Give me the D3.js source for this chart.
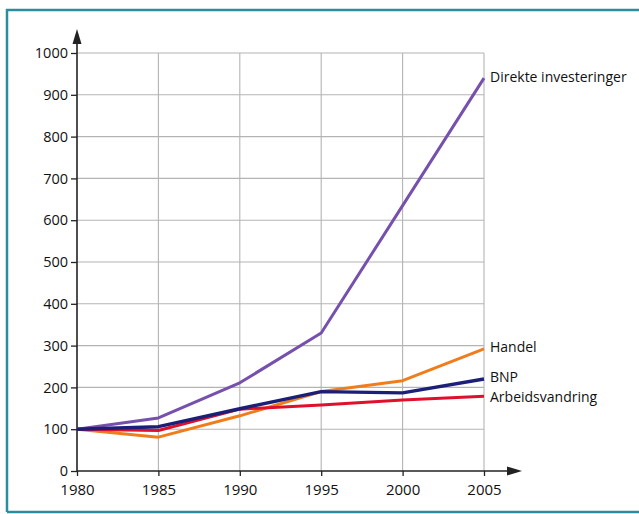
<!DOCTYPE html>
<html><head><meta charset="utf-8">
<script src="https://cdn.jsdelivr.net/npm/d3@7"></script>
<style>body{margin:0;background:#fff}svg{display:block}</style>
</head><body>
<svg id="c" width="639" height="514"></svg>
<script>
const years = [1980, 1985, 1990, 1995, 2000, 2005];
const yTicks = [0, 100, 200, 300, 400, 500, 600, 700, 800, 900, 1000];
const seriesNames = ["Direkte investeringer", "Handel", "BNP", "Arbeidsvandring"];
const direkte = [100, 127, 211, 330, 635, 940];
const handel = [100, 81, 132, 190, 216, 292];
const bnp = [100, 106, 149, 190, 187, 220];
const arbeid = [100, 97, 148, 158, 170, 179];
const colors = ["#7650ad", "#f07d1c", "#1c1f78", "#e0102c"];

const svg = d3.select("#c");
const font = "'Open Sans', 'Noto Sans', sans-serif";
const x = d3.scaleLinear().domain([1980, 2005]).range([77, 484]);
const y = d3.scaleLinear().domain([0, 1000]).range([471, 53]);

// frame
svg.append("path").attr("d", "M7,512 L7,10 L639,10").attr("fill", "none").attr("stroke", "#2a8e9e").attr("stroke-width", 2.5);
svg.append("line").attr("x1", 7).attr("x2", 639).attr("y1", 512).attr("y2", 512).attr("stroke", "#2a8e9e").attr("stroke-width", 2.5);

// grid
const g = svg.append("g");
g.selectAll(".hg").data(yTicks.slice(1)).join("line")
  .attr("x1", x(1980)).attr("x2", x(2005)).attr("y1", d => y(d)).attr("y2", d => y(d))
  .attr("stroke", "#b4b4b4").attr("stroke-width", 1.1);
g.selectAll(".vg").data(years.slice(1)).join("line")
  .attr("x1", d => x(d)).attr("x2", d => x(d)).attr("y1", y(1000)).attr("y2", y(0))
  .attr("stroke", "#b4b4b4").attr("stroke-width", 1.1);

// axes
const yAxis = d3.axisLeft(y).tickValues(yTicks).tickSize(6).tickPadding(3).tickFormat(d3.format("d"));
const ya = svg.append("g").attr("transform", `translate(${x(1980)},0)`).call(yAxis);
ya.select(".domain").remove();
ya.selectAll("text").attr("font-family", font).attr("font-size", 14.5).attr("fill", "#111");
ya.selectAll("line").attr("stroke", "#222").attr("stroke-width", 1.3);

const xAxis = d3.axisBottom(x).tickValues(years).tickSize(5).tickPadding(8).tickFormat(d3.format("d"));
const xa = svg.append("g").attr("transform", `translate(0,${y(0)})`).call(xAxis);
xa.select(".domain").remove();
xa.selectAll("text").attr("font-family", font).attr("font-size", 15).attr("fill", "#111");
xa.selectAll("line").attr("stroke", "#222").attr("stroke-width", 1.3);

// axis lines with arrows
svg.append("line").attr("x1", x(1980)).attr("x2", x(1980)).attr("y1", y(0)).attr("y2", 40).attr("stroke", "#222").attr("stroke-width", 1.6);
svg.append("path").attr("d", `M${x(1980)},29 L${x(1980)-4.5},44 L${x(1980)+4.5},44 Z`).attr("fill", "#222");
svg.append("line").attr("x1", x(1980)).attr("x2", 512).attr("y1", y(0)).attr("y2", y(0)).attr("stroke", "#222").attr("stroke-width", 1.6);
svg.append("path").attr("d", `M522,${y(0)} L507,${y(0)-4.5} L507,${y(0)+4.5} Z`).attr("fill", "#222");

// series
const allSeries = [direkte, handel, bnp, arbeid];
const line = d3.line().x((d, i) => x(years[i])).y(d => y(d));
const order = [1, 0, 3, 2];
order.forEach(k => {
  svg.append("path").datum(allSeries[k]).attr("d", line)
    .attr("fill", "none").attr("stroke", colors[k]).attr("stroke-width", k === 2 ? 3.4 : 3)
    .attr("stroke-linejoin", "round");
});

// labels
const labelY = [77, 347, 377, 397];
seriesNames.forEach((n, k) => {
  svg.append("text").attr("x", 490).attr("y", labelY[k]).attr("dy", "0.35em")
    .attr("font-family", font).attr("font-size", 14).attr("fill", "#111").text(n);
});
</script>
</body></html>
